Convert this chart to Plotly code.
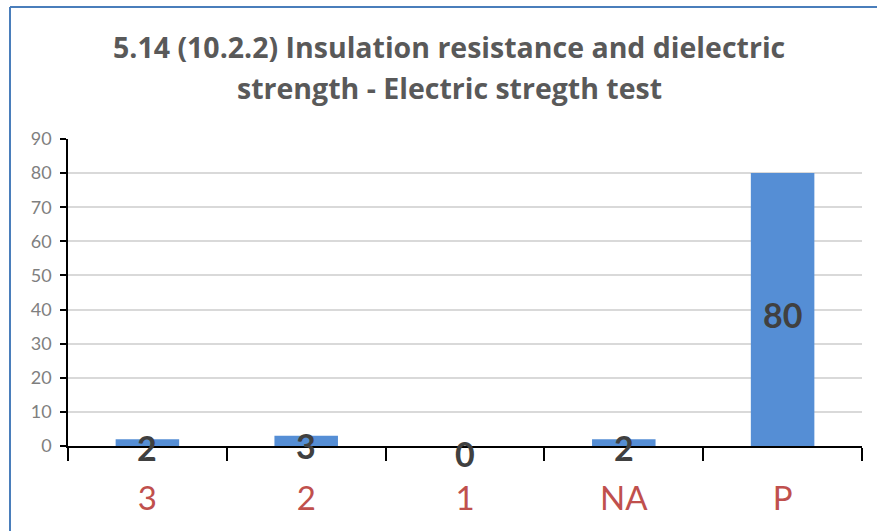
import plotly.graph_objects as go

categories = ["3", "2", "1", "NA", "P"]
values = [2, 3, 0, 2, 80]
label_text = [str(v) for v in values]
y_ticks = [0, 10, 20, 30, 40, 50, 60, 70, 80, 90]
title_lines = ["5.14 (10.2.2) Insulation resistance and dielectric",
               "strength - Electric stregth test"]

FONT = "Lato, 'Open Sans', sans-serif"
TITLE_FONT = "'Open Sans', Lato, sans-serif"

W, H = 877, 531
L, R, T, B = 68, 15, 139, 85
PW, PH = W - L - R, H - T - B


def px_x(x):
    return (x - L) / PW


def px_y(y):
    return (H - B - y) / PH


fig = go.Figure()
fig.add_trace(go.Bar(
    x=categories, y=values,
    marker=dict(color="#558ED5", line=dict(width=0)),
    hoverinfo="skip",
))

annotations = []
for i, (v, t) in enumerate(zip(values, label_text)):
    # category axis position i corresponds to categories[i]
    annotations.append(dict(
        x=i, y=v / 2, xref="x", yref="y", text=t, showarrow=False,
        xanchor="center", yanchor="middle", yshift=-5 if v > 0 else -7,
        font=dict(family=FONT, size=34, color="#404040", weight="bold"),
    ))

for i, line in enumerate(title_lines):
    annotations.append(dict(
        text=line, showarrow=False,
        xref="paper", yref="paper",
        x=px_x(449), y=px_y(47 + 41 * i),
        xanchor="center", yanchor="middle",
        font=dict(family=TITLE_FONT, size=28.5, color="#595959", weight="bold"),
    ))

fig.update_layout(
    width=W, height=H,
    margin=dict(l=L, r=R, t=T, b=B),
    paper_bgcolor="white", plot_bgcolor="white",
    showlegend=False,
    bargap=0.6,
    annotations=annotations,
    xaxis=dict(
        type="category", categoryorder="array", categoryarray=categories,
        showline=True, linecolor="black", linewidth=1.5,
        ticks="outside", tickson="boundaries", ticklen=13,
        tickcolor="black", tickwidth=1.5,
        tickfont=dict(family=FONT, size=33, color="#C0504D"),
        ticklabelstandoff=23,
        showgrid=False,
    ),
    yaxis=dict(
        range=[0, 90], tickvals=y_ticks,
        showline=True, linecolor="black", linewidth=1.5,
        ticks="outside", ticklen=6, tickcolor="black", tickwidth=1.5,
        tickfont=dict(family=FONT, size=18, color="#7F7F7F"),
        ticklabelstandoff=5,
        showgrid=True, gridcolor="#D9D9D9", gridwidth=1.5,
        zeroline=False,
    ),
    shapes=[
        dict(type="line", xref="paper", yref="paper",
             x0=px_x(10), x1=px_x(W + 20), y0=px_y(7), y1=px_y(7),
             line=dict(color="#4A7EBB", width=2)),
        dict(type="line", xref="paper", yref="paper",
             x0=px_x(10), x1=px_x(10), y0=px_y(7), y1=px_y(H + 20),
             line=dict(color="#4A7EBB", width=2)),
    ],
)

fig.write_html(
    "out.html",
    config={"displayModeBar": False},
    post_script="document.body.style.margin='0';document.body.style.padding='0';",
)
